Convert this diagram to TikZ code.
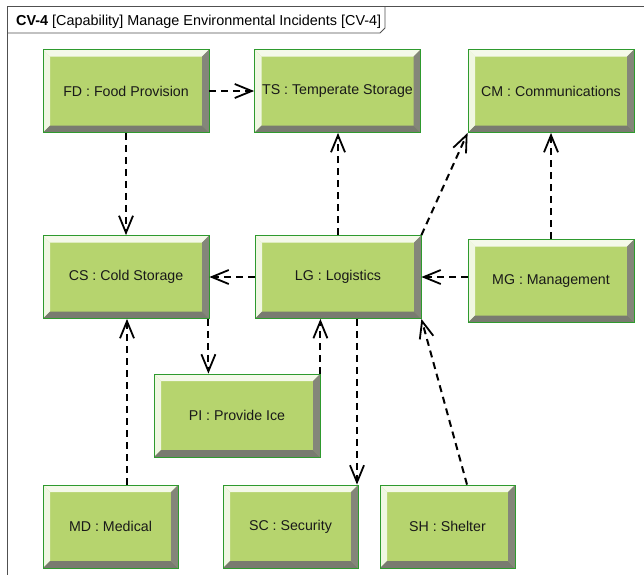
\documentclass[tikz,border=0pt]{standalone}
\usepackage{fontspec}
\setmainfont{Liberation Sans}
\usetikzlibrary{arrows.meta,calc}
\definecolor{boxfill}{HTML}{B6D46E}
\definecolor{boxedge}{HTML}{2E9A2E}
\definecolor{bevlight}{HTML}{F4F9E9}
\definecolor{bevdark}{HTML}{84867A}
\definecolor{framec}{HTML}{505050}
\tikzset{
  capbox/.style={draw=boxedge, line width=0.8pt, fill=boxfill, inner sep=0pt,
    font=\fontsize{14.2}{16}\selectfont, text=black!90,
    path picture={
      \def\bw{7pt}
      \coordinate (nw) at (path picture bounding box.north west);
      \coordinate (ne) at (path picture bounding box.north east);
      \coordinate (sw) at (path picture bounding box.south west);
      \coordinate (se) at (path picture bounding box.south east);
      \fill[bevlight] (nw) -- (ne) -- ($(ne)+(-\bw,-\bw)$) -- ($(nw)+(\bw,-\bw)$) -- cycle;
      \fill[bevlight!94!boxfill] (nw) -- (sw) -- ($(sw)+(\bw,\bw)$) -- ($(nw)+(\bw,-\bw)$) -- cycle;
      \fill[bevdark] (ne) -- (se) -- ($(se)+(-\bw,\bw)$) -- ($(ne)+(-\bw,-\bw)$) -- cycle;
      \fill[bevdark!92!black] (sw) -- (se) -- ($(se)+(-\bw,\bw)$) -- ($(sw)+(\bw,\bw)$) -- cycle;
    }},
  wide/.style={minimum width=166pt, minimum height=83pt},
  narrow/.style={minimum width=135pt, minimum height=83pt},
  dep/.style={draw=black, line width=2pt, dash pattern=on 7pt off 5pt,
    -{Straight Barb[length=17pt,width=14pt,line width=1.8pt]}},
}
\begin{document}
\begin{tikzpicture}[x=1pt,y=-1pt]
\useasboundingbox (0,0) rectangle (644,574);
% frame
\draw[framec, line width=0.9pt] (7,580) -- (7,6) -- (650,6);
\draw[framec, line width=0.9pt] (7,33) -- (380,33) -- (385,28) -- (385,6);
\node[anchor=west, inner sep=0pt, font=\fontsize{14.4}{16}\selectfont] (title) at (16,22)
  {\textbf{CV-4} [Capability] Manage Environmental Incidents [CV-4]};
% boxes
\node[capbox,wide] (FD) at (126,91) {FD : Food Provision};
\node[capbox,wide] (TS) at (337.5,91) {TS : Temperate Storage};
\node[capbox,wide] (CM) at (551,91) {CM : Communications};
\node[capbox,wide] (CS) at (126,277) {CS : Cold Storage};
\node[capbox,wide] (LG) at (338,277) {LG : Logistics};
\node[capbox,wide] (MG) at (551,281) {MG : Management};
\node[capbox,wide] (PI) at (237,415.5) {PI : Provide Ice};
\node[capbox,narrow] (MD) at (110.5,526.5) {MD : Medical};
\node[capbox,narrow] (SC) at (290.5,526.5) {SC : Security};
\node[capbox,narrow] (SH) at (447.5,526.5) {SH : Shelter};
% dependencies
\draw[dep] (FD.east) -- (FD.east -| TS.west);
\draw[dep] (FD.south) -- (FD.south |- CS.north);
\draw[dep] (LG.north) -- (LG.north |- TS.south);
\draw[dep] (LG.north east) -- (CM.south west);
\draw[dep] (MG.north) -- (MG.north |- CM.south);
\draw[dep] ([yshift=4pt]MG.west) -- ([yshift=4pt]MG.west -| LG.east);
\draw[dep] (LG.west) -- (LG.west -| CS.east);
\draw[dep] ([xshift=-1pt]CS.south east) -- ([xshift=-1pt]CS.south east |- PI.north);
\draw[dep] (PI.north east) -- (PI.north east |- LG.south);
\draw[dep] ([xshift=16.5pt]MD.north) -- ([xshift=16.5pt]MD.north |- CS.south);
\draw[dep] ([xshift=19pt]LG.south) -- ([xshift=19pt]LG.south |- SC.north);
\draw[dep] ([xshift=19.5pt]SH.north) -- (LG.south east);
\end{tikzpicture}
\end{document}
